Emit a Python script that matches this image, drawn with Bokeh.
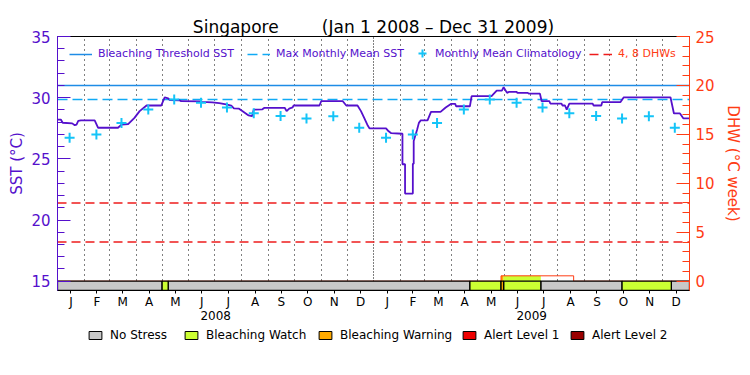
import pandas as pd
from bokeh.plotting import figure
from bokeh.layouts import column
from bokeh.models import (Range1d, LinearAxis, FixedTicker, SingleIntervalTicker,
                          Legend, LegendItem, Grid, Title)
from bokeh.embed import file_html
from bokeh.resources import INLINE

# ---------------- data ----------------
title_place = "Singapore"
title_period = "(Jan 1 2008 \u2013 Dec 31 2009)"
start_date = "2008-01-01"
end_date = "2010-01-01"

sst_dates = [
    "2008-01-01", "2008-01-05", "2008-01-07", "2008-01-18", "2008-01-21", "2008-01-23", "2008-01-25", "2008-01-28",
    "2008-02-13", "2008-02-17", "2008-03-11", "2008-03-15", "2008-03-23", "2008-03-30", "2008-04-05", "2008-04-13",
    "2008-04-30", "2008-05-04", "2008-05-08", "2008-05-10", "2008-05-21", "2008-05-23", "2008-06-13", "2008-06-16",
    "2008-06-28", "2008-07-06", "2008-07-14", "2008-07-20", "2008-07-23", "2008-07-29", "2008-08-05", "2008-08-09",
    "2008-08-13", "2008-08-15", "2008-08-25", "2008-08-27", "2008-09-20", "2008-09-22", "2008-09-25", "2008-09-29",
    "2008-09-30", "2008-10-30", "2008-11-01", "2008-11-26", "2008-11-30", "2008-12-13", "2008-12-17", "2008-12-21",
    "2008-12-25", "2008-12-27", "2009-01-15", "2009-01-18", "2009-01-21", "2009-02-03", "2009-02-03", "2009-02-06",
    "2009-02-06", "2009-02-15", "2009-02-15", "2009-02-16", "2009-02-16", "2009-02-20", "2009-02-22", "2009-02-24",
    "2009-03-04", "2009-03-08", "2009-03-19", "2009-03-25", "2009-03-31", "2009-04-05", "2009-04-06", "2009-04-22",
    "2009-04-24", "2009-05-17", "2009-05-23", "2009-05-29", "2009-05-31", "2009-06-04", "2009-06-06", "2009-06-15",
    "2009-06-16", "2009-06-28", "2009-06-29", "2009-07-12", "2009-07-14", "2009-07-23", "2009-07-24", "2009-08-06",
    "2009-08-07", "2009-08-10", "2009-08-12", "2009-08-15", "2009-09-11", "2009-09-12", "2009-09-21", "2009-09-22",
    "2009-10-13", "2009-10-17", "2009-12-10", "2009-12-14", "2009-12-21", "2009-12-25", "2010-01-01",
]
sst_values = [
    28.20, 28.20, 27.95, 27.90, 27.75, 27.80, 28.10, 28.14,
    28.14, 27.54, 27.54, 27.80, 27.85, 28.35, 28.90, 29.36,
    29.36, 30.03, 29.95, 29.80, 29.79, 29.71, 29.70, 29.65,
    29.62, 29.55, 29.45, 29.36, 29.12, 29.10, 28.75, 28.55,
    28.49, 29.03, 29.05, 29.16, 29.16, 28.90, 29.10, 29.20,
    29.36, 29.36, 29.71, 29.71, 29.36, 29.36, 28.90, 28.30,
    27.70, 27.49, 27.49, 27.25, 27.10, 27.05, 24.56, 24.56,
    22.16, 22.16, 24.60, 24.60, 26.45, 27.40, 27.94, 28.14,
    28.14, 28.84, 28.84, 29.20, 29.49, 29.49, 29.30, 29.30,
    30.12, 30.12, 30.58, 30.58, 30.85, 30.39, 30.47, 30.47,
    30.39, 30.39, 30.33, 30.33, 29.71, 29.71, 29.52, 29.52,
    29.36, 29.36, 29.03, 29.52, 29.52, 29.36, 29.36, 29.63,
    29.63, 30.03, 30.03, 28.71, 28.71, 28.30, 28.30,
]

clim_values = [26.72, 27.00, 27.92, 29.03, 29.86, 29.58, 29.20, 28.72, 28.50, 28.30, 28.49, 27.54]
clim_years = [2008, 2009]

mmm_sst = 29.86
threshold_sst = 31.0
dhw_levels = [4, 8]

dhw_dates = ["2008-01-01", "2009-05-28", "2009-08-20", "2010-01-01"]
dhw_values = [0.0, 0.55, 0.0, 0.0]

status_starts = ["2008-01-01", "2008-05-01", "2008-05-08", "2009-04-22", "2009-05-28",
                 "2009-05-31", "2009-07-13", "2009-10-15", "2009-12-11"]
status_levels = [0, 1, 0, 1, 2, 1, 0, 1, 0]
status_names = ["No Stress", "Bleaching Watch", "Bleaching Warning", "Alert Level 1", "Alert Level 2"]
status_colors = ["#c8c8c8", "#ccff33", "#ffaa00", "#ee0000", "#990000"]

month_letters = ["J", "F", "M", "A", "M", "J", "J", "A", "S", "O", "N", "D"]
year_labels = ["2008", "2009"]

# ---------------- helpers ----------------
PURPLE = "#5510cc"
ORANGE = "#ff3c14"
TH_BLUE = "#1e8ce6"
MMM_BLUE = "#10aaf5"
CLIM_CYAN = "#14c4f8"
DHW_RED = "#ee1c1c"
FONT = "DejaVu Sans"

base = pd.Timestamp(start_date)


def days(ds):
    return [float((pd.Timestamp(d) - base) / pd.Timedelta(days=1)) for d in ds]


x_end = days([end_date])[0]
sst_x = days(sst_dates)

month_starts = days(pd.date_range(start_date, end_date, freq="MS"))
month_mids = [(a + b) / 2 for a, b in zip(month_starts[:-1], month_starts[1:])]
month_overrides = {m: month_letters[i % 12] for i, m in enumerate(month_mids)}
year_starts = days([f"{y}-01-01" for y in clim_years] + [end_date])
year_mids = [(a + b) / 2 for a, b in zip(year_starts[:-1], year_starts[1:])]
year_overrides = {m: lab for m, lab in zip(year_mids, year_labels)}

clim_x, clim_y = [], []
for y in clim_years:
    for mi, v in enumerate(clim_values):
        clim_x.append(days([f"{y}-{mi + 1:02d}-15"])[0])
        clim_y.append(v)

bar_depth = 0.76  # SST units of the status strip under 15 degC
sst_lo, sst_hi = 15.0, 35.0
dhw_hi = 25.0
dhw_per_sst = dhw_hi / (sst_hi - sst_lo)

W = 744
# ---------------- main figure ----------------
p = figure(width=W, height=328, output_backend="svg", toolbar_location=None,
           x_range=Range1d(0, x_end), y_range=Range1d(sst_lo - bar_depth, sst_hi),
           min_border_left=57, min_border_right=W - 694, min_border_top=35, min_border_bottom=38,
           background_fill_color="white", border_fill_color="white")
p.extra_y_ranges = {"dhw": Range1d(-bar_depth * dhw_per_sst, dhw_hi)}
p.outline_line_color = "black"

# outermost (top) slot: empty spacer; the real title sits nearer the frame
p.title.text = "\u00a0"
p.title.text_font_size = "10px"
p.title.standoff = 1
p.add_layout(Title(text=title_place + "\u00a0" * 8 + title_period, align="center",
                   text_font=FONT, text_font_size="17px", text_font_style="normal",
                   text_color="black", standoff=0), "above")

# left axis
ax = p.yaxis[0]
ax.ticker = SingleIntervalTicker(interval=5, num_minor_ticks=5)
ax.axis_line_color = PURPLE
ax.major_tick_line_color = PURPLE
ax.minor_tick_line_color = PURPLE
ax.major_tick_in, ax.major_tick_out = 13, 0
ax.minor_tick_in, ax.minor_tick_out = 7, 0
ax.major_label_text_color = PURPLE
ax.major_label_text_font = FONT
ax.major_label_text_font_size = "15px"
ax.major_label_standoff = 7
ax.axis_label = "SST (\u00b0C)"
ax.axis_label_text_color = PURPLE
ax.axis_label_text_font = FONT
ax.axis_label_text_font_size = "15px"
ax.axis_label_text_font_style = "normal"
ax.axis_label_standoff = 2

# right axis
rax = LinearAxis(y_range_name="dhw", ticker=SingleIntervalTicker(interval=5, num_minor_ticks=5))
rax.axis_line_color = ORANGE
rax.major_tick_line_color = ORANGE
rax.minor_tick_line_color = ORANGE
rax.major_tick_in, rax.major_tick_out = 13, 0
rax.minor_tick_in, rax.minor_tick_out = 7, 0
rax.major_label_text_color = ORANGE
rax.major_label_text_font = FONT
rax.major_label_text_font_size = "15px"
rax.major_label_standoff = 6
rax.axis_label = "DHW (\u00b0C week)"
rax.axis_label_text_color = ORANGE
rax.axis_label_text_font = FONT
rax.axis_label_text_font_size = "15px"
rax.axis_label_text_font_style = "normal"
rax.axis_label_standoff = 6
p.add_layout(rax, "right")

# month axis
xa = p.xaxis[0]
xa.ticker = FixedTicker(ticks=month_mids)
xa.major_label_overrides = month_overrides
xa.axis_line_color = "black"
xa.major_tick_line_color = "black"
xa.major_tick_in, xa.major_tick_out = 0, 3
xa.minor_tick_line_color = None
xa.major_label_text_font = FONT
xa.major_label_text_font_size = "12px"
xa.major_label_text_color = "black"
xa.major_label_standoff = 1

# year axis
yax = LinearAxis(ticker=FixedTicker(ticks=year_mids), major_label_overrides=year_overrides)
yax.axis_line_color = None
yax.major_tick_line_color = None
yax.minor_tick_line_color = None
yax.major_tick_in, yax.major_tick_out = 0, 0
yax.major_label_text_font = FONT
yax.major_label_text_font_size = "12px"
yax.major_label_text_color = "black"
yax.major_label_standoff = -1
p.add_layout(yax, "below")

# grids
p.ygrid.visible = False
year_break = year_starts[1]
p.xgrid.ticker = FixedTicker(ticks=[m for m in month_starts[1:-1] if m != year_break])
p.xgrid.grid_line_color = "black"
p.xgrid.grid_line_dash = "1 4"
p.xgrid.grid_line_width = 1
p.add_layout(Grid(dimension=0, ticker=FixedTicker(ticks=[year_break]),
                  grid_line_color="black", grid_line_dash="1 2", grid_line_width=1))

# reference lines
r_th = p.line([0, x_end], [threshold_sst, threshold_sst], line_color=TH_BLUE, line_width=1.5)
r_mmm = p.line([0, x_end], [mmm_sst, mmm_sst], line_color=MMM_BLUE, line_width=1.5, line_dash="10 5")
r_dhwl = p.multi_line([[0, x_end] for _ in dhw_levels], [[v, v] for v in dhw_levels],
                      line_color=DHW_RED, line_width=1.5, line_dash="9 5", y_range_name="dhw")

# SST series
p.line(sst_x, sst_values, line_color=PURPLE, line_width=1.8)

# climatology
r_clim = p.scatter(clim_x, clim_y, marker="cross", size=10, line_color=CLIM_CYAN, line_width=2)

# DHW area coloured by stress level
dhw_x = days(dhw_dates)
st_x0 = days(status_starts)
st_x1 = st_x0[1:] + [x_end]
fl, fr, ft, fc = [], [], [], []
for i in range(len(dhw_values) - 1):
    if dhw_values[i] <= 0:
        continue
    a, b = dhw_x[i], dhw_x[i + 1]
    for s, e, lvl in zip(st_x0, st_x1, status_levels):
        lo, hi = max(a, s), min(b, e)
        if lo < hi and lvl > 0:
            fl.append(lo); fr.append(hi); ft.append(dhw_values[i]); fc.append(status_colors[lvl])
p.quad(left=fl, right=fr, bottom=0, top=ft, fill_color=fc, line_color=None, y_range_name="dhw")
p.step(dhw_x, dhw_values, mode="after", line_color=ORANGE, line_width=1, y_range_name="dhw")

# status strip (drawn over the DHW zero line)
for lvl, col in enumerate(status_colors):
    l = [s for s, k in zip(st_x0, status_levels) if k == lvl]
    r = [e for e, k in zip(st_x1, status_levels) if k == lvl]
    p.quad(left=l, right=r, bottom=sst_lo - bar_depth, top=sst_lo,
           fill_color=col, line_color="black", line_width=1.3)


# legends (positions in px relative to the frame's bottom-left corner)
def make_legend(fig, items, loc, color, size, gw=23, gh=12, standoff=6, spacing=0):
    lg = Legend(items=items, location=loc,
                orientation="horizontal", glyph_width=gw, glyph_height=gh, label_height=gh,
                label_width=0, label_standoff=standoff, padding=0, margin=0, spacing=spacing,
                border_line_color=None, background_fill_alpha=0,
                label_text_font=FONT, label_text_font_size=size,
                label_text_color=color)
    fig.add_layout(lg)


make_legend(p, [LegendItem(label="Bleaching Threshold SST", renderers=[r_th])], (12, 230), PURPLE, "11px")
make_legend(p, [LegendItem(label="Max Monthly Mean SST", renderers=[r_mmm])], (190, 230), PURPLE, "11px")
make_legend(p, [LegendItem(label="Monthly Mean Climatology", renderers=[r_clim])], (355, 227), PURPLE, "11px",
            gw=20, gh=20, standoff=3)
make_legend(p, [LegendItem(label="4, 8 DHWs", renderers=[r_dhwl])], (532, 230), ORANGE, "11px")

# ---------------- status key (own strip under the chart; frame aligned with the chart's) ----------------
k = figure(width=W, height=30, output_backend="svg", toolbar_location=None,
           x_range=Range1d(0, 1), y_range=Range1d(0, 1),
           x_axis_location=None, y_axis_location=None, min_border=0,
           background_fill_color="white", border_fill_color="white")
k.outline_line_color = None
k.grid.visible = False
key_x = [30, 126, 260, 404, 512]  # px offsets of the key boxes from the frame's left edge
for name, col, kx in zip(status_names, status_colors, key_x):
    # swatch glyph kept outside the visible range; only its legend box shows
    kr = k.quad(left=[2], right=[3], bottom=[2], top=[3], fill_color=col, line_color="black")
    make_legend(k, [LegendItem(label=name, renderers=[kr])], (kx, 16), "black", "12px",
                gw=16, gh=10, standoff=7)

open("out.html", "w").write(file_html(column(p, k, spacing=0), INLINE))
